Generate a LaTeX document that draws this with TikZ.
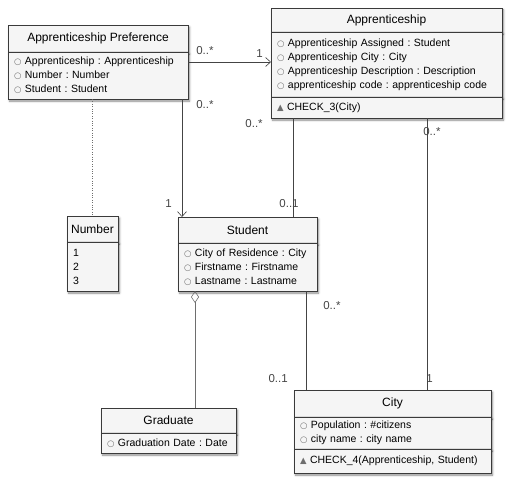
\documentclass[tikz,border=0pt]{standalone}
\usepackage{fontspec}
\setmainfont{Liberation Sans}
\newfontfamily\symfont{DejaVu Sans}
\usepackage{tikz}
\usetikzlibrary{shadows, shadows.blur, arrows, arrows.meta, positioning}
\usepackage{xcolor}
\frenchspacing

\definecolor{boxfill}{HTML}{F5F5F5}
\definecolor{boxline}{HTML}{3A3A3A}
\definecolor{edgegray}{HTML}{444444}
\definecolor{markgray}{HTML}{6E6E6E}

\newcommand{\attr}[1]{{\symfont\fontsize{8.5}{8.5}\selectfont\textcolor{markgray}{○}}\hspace{3.5pt}#1}
\newcommand{\oper}[1]{{\symfont\fontsize{8.5}{8.5}\selectfont\textcolor{markgray}{▲}}\hspace{3.5pt}#1}

\tikzstyle{classhead} = [draw=boxline, fill=boxfill, thick, blur shadow={shadow xshift=1.5pt, shadow yshift=-2pt, shadow blur steps=5, shadow opacity=45}, font=\fontsize{12}{14}\selectfont, inner sep=0pt, outer sep=0pt]
\tikzstyle{classpart} = [draw=boxline, fill=boxfill, thick, blur shadow={shadow xshift=1.5pt, shadow yshift=-2pt, shadow blur steps=5, shadow opacity=45}, font=\fontsize{10.5}{14}\selectfont, align=left, inner xsep=6pt, inner ysep=0pt, outer sep=0pt]
\tikzstyle{arrow}     = [edgegray, semithick, -{Straight Barb[length=5pt,width=9pt]}]
\tikzstyle{edge}      = [edgegray, semithick]
\tikzstyle{mult}      = [font=\fontsize{11.5}{13}\selectfont, inner sep=0pt]

\begin{document}
\begin{tikzpicture}[x=1pt, y=-1pt]
\useasboundingbox (0,0) rectangle (516,487);

% tridy
\node[classhead, anchor=north west, minimum width=180pt, minimum height=27pt] (ap) at (8,25) {Apprenticeship Preference};
\node[classpart, below=0pt of ap, text width=168pt, minimum height=47pt] (apbody) {\attr{Apprenticeship : Apprenticeship}\\ \attr{Number : Number}\\ \attr{Student : Student}};

\node[classhead, anchor=north west, minimum width=231pt, minimum height=24pt] (appr) at (271,8) {Apprenticeship};
\node[classpart, below=0pt of appr, text width=219pt, minimum height=65pt] (apprbody) {\attr{Apprenticeship Assigned : Student}\\ \attr{Apprenticeship City : City}\\ \attr{Apprenticeship Description : Description}\\ \attr{apprenticeship code : apprenticeship code}};
\node[classpart, below=0pt of apprbody, text width=219pt, minimum height=21pt] (approps) {\oper{CHECK\_3(City)}};

\node[classhead, anchor=north west, minimum width=51pt, minimum height=26pt] (number) at (67,216) {Number};
\node[classpart, below=0pt of number, text width=39pt, minimum height=49pt] (numberbody) {1\\ 2\\ 3};

\node[classhead, anchor=north west, minimum width=139pt, minimum height=26pt] (student) at (178,217) {Student};
\node[classpart, below=0pt of student, text width=127pt, minimum height=48pt] (studentbody) {\attr{City of Residence : City}\\ \attr{Firstname : Firstname}\\ \attr{Lastname : Lastname}};

\node[classhead, anchor=north west, minimum width=135pt, minimum height=25pt] (graduate) at (101,408) {Graduate};
\node[classpart, below=0pt of graduate, text width=123pt, minimum height=20pt] (graduatebody) {\attr{Graduation Date : Date}};

\node[classhead, anchor=north west, minimum width=197pt, minimum height=27pt] (city) at (294,390) {City};
\node[classpart, below=0pt of city, text width=185pt, minimum height=32pt] (citybody) {\attr{Population : \#citizens}\\ \attr{city name : city name}};
\node[classpart, below=0pt of citybody, text width=185pt, minimum height=24pt] (cityops) {\oper{CHECK\_4(Apprenticeship, Student)}};

% vazby
\draw[arrow] ([yshift=-10pt]apbody.north east) -- ([yshift=-10pt]apbody.north east -| apprbody.west)
  node[mult, pos=0.0, anchor=south west, xshift=8pt, yshift=7pt] {0..*}
  node[mult, pos=1.0, anchor=south east, xshift=-8pt, yshift=4pt] {1};

\draw[arrow] ([xshift=-6pt]apbody.south east) -- ([xshift=-6pt]apbody.south east |- student.north)
  node[mult, pos=0.0, anchor=north west, xshift=14pt, yshift=-1pt] {0..*}
  node[mult, pos=1.0, anchor=south east, xshift=-10pt, yshift=9pt] {1};

\draw[markgray, dotted] (number.north |- apbody.south) -- (number.north);

\draw[edge] ([xshift=-24pt]student.north east |- approps.south) -- ([xshift=-24pt]student.north east)
  node[mult, pos=0.0, anchor=north east, xshift=-30pt, yshift=-1pt] {0..*}
  node[mult, pos=1.0, anchor=south, xshift=-4pt, yshift=9pt] {0..1};

\draw[edge] ([xshift=-64pt]city.north east |- approps.south) -- ([xshift=-64pt]city.north east)
  node[mult, pos=0.0, anchor=north west, xshift=-4pt, yshift=-9pt] {0..*}
  node[mult, pos=1.0, anchor=south west, xshift=-1pt, yshift=7pt] {1};

\draw[edge] ([xshift=12pt]city.north west |- studentbody.south) -- ([xshift=12pt]city.north west)
  node[mult, pos=0.0, anchor=north west, xshift=17pt, yshift=-10pt] {0..*}
  node[mult, pos=1.0, anchor=south east, xshift=-18pt, yshift=7pt] {0..1};

\draw[markgray, semithick, {Diamond[open,length=12pt,width=8pt]}-] ([xshift=17pt]studentbody.south west) -- ([xshift=17pt]studentbody.south west |- graduate.north);

\end{tikzpicture}
\end{document}
